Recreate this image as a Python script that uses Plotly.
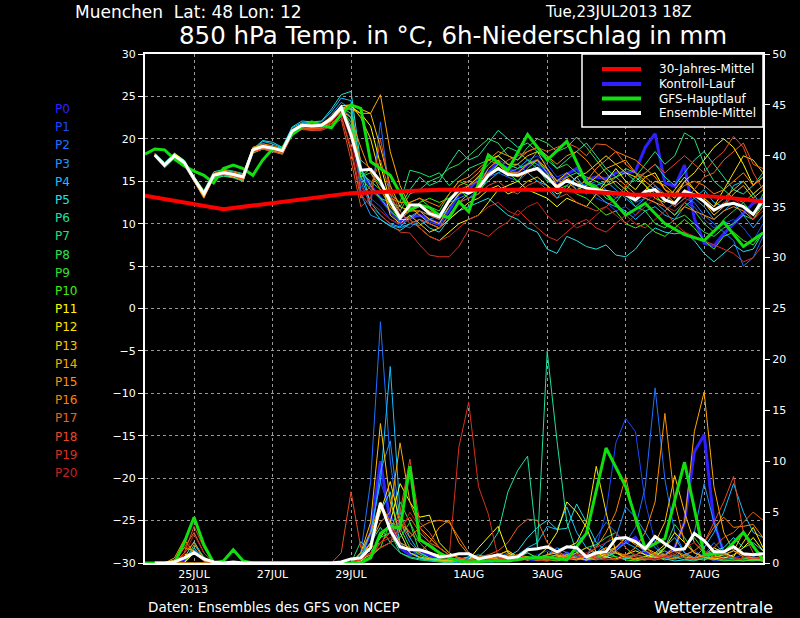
import pandas as pd
import plotly.graph_objects as go

# ---------------- time axis ----------------
T_START = "2013-07-23 18:00"
STEPS = pd.date_range(T_START, periods=64, freq="6h")
ENS_T = list(STEPS[1:])                       # ensemble members: 24JUL 00Z .. 8AUG 12Z
GFS_T = list(STEPS[0:34]) + list(STEPS[35::2])  # GFS: 6-hourly, then 12-hourly
CLIM_IDX = [0, 8, 21, 30, 42, 50, 55, 59, 63]
CLIM_T = [STEPS[i] for i in CLIM_IDX]

TICK_VALS = ["2013-07-25", "2013-07-27", "2013-07-29", "2013-08-01",
             "2013-08-03", "2013-08-05", "2013-08-07"]
TICK_TEXT = ["25JUL<br>2013", "27JUL", "29JUL", "1AUG", "3AUG", "5AUG", "7AUG"]

# ---------------- 850 hPa temperature (deg C) ----------------
CLIM = [13.3, 11.7, 13.6, 14.0, 14.0, 13.4, 13.4, 13.1, 12.6]

GFS_TEMP = [18.2, 18.8, 18.7, 17.6, 16.8, 16.2, 15.7, 14.8, 16.5, 16.9,
            16.5, 15.7, 17.5, 18.8, 18.9, 20.5, 21.4, 22.0, 21.6, 21.3,
            22.9, 24.0, 23.6, 17.3, 16.5, 15.7, 13.6, 11.6, 12.2, 11.9,
            11.0, 10.7, 12.6, 11.4,
            18.1, 16.3, 20.5, 17.5, 19.7, 14.8, 13.6, 11.0, 12.4, 10.0,
            8.7, 8.0, 10.2, 7.3, 8.9]

MEAN_TEMP = [18.1, 16.9, 18.0, 17.2, 15.3, 13.5, 15.7, 16.0, 15.8, 15.5,
             18.7, 19.1, 18.9, 18.6, 20.9, 21.6, 21.5, 21.6, 22.4, 23.7,
             20.5, 16.3, 16.4, 15.0, 12.6, 10.7, 12.2, 12.2, 11.2, 10.8,
             12.7, 14.0, 13.6, 14.2, 15.7, 16.5, 15.8, 15.7, 16.2, 16.5,
             15.5, 14.3, 15.1, 14.6, 14.2, 14.0, 13.8, 13.6, 13.4, 12.8,
             13.8, 14.0, 12.8, 12.4, 13.8, 13.4, 12.6, 11.6, 12.2, 12.4,
             12.0, 11.1, 12.8]

TEMP_P0 = [18.1, 16.8, 18.0, 17.1, 15.2, 13.4, 15.6, 16.0, 15.8, 15.4, 18.6, 19.1, 18.9, 18.5, 20.8, 21.5, 21.5, 21.6, 22.3, 23.6,
           21.0, 16.0, 14.5, 13.0, 11.5, 10.2, 10.8, 11.0, 10.5, 10.0, 11.5, 13.5, 14.0, 15.5, 16.0, 17.2, 16.5, 16.0, 17.0, 17.5,
           16.0, 15.0, 15.8, 16.5, 15.2, 15.5, 15.3, 16.0, 16.0, 16.2, 19.0, 20.6, 14.8, 14.4, 16.9, 10.6, 7.7, 7.4, 8.8, 10.0,
           11.2, 12.4, 13.0]
TEMP_P1 = [18.3, 17.0, 18.2, 17.0, 15.0, 13.2, 15.9, 16.3, 16.1, 15.3, 18.9, 19.5, 19.0, 18.4, 21.0, 21.8, 21.6, 21.4, 22.6, 24.0,
           22.5, 14.0, 13.0, 12.0, 10.5, 9.8, 10.5, 11.0, 10.2, 9.8, 11.5, 13.5, 14.0, 15.0, 16.5, 17.5, 17.0, 16.5, 17.5, 18.0,
           17.0, 15.5, 16.0, 15.0, 14.5, 13.0, 12.5, 11.5, 12.0, 11.0, 12.5, 13.5, 12.0, 11.0, 12.5, 12.0, 10.5, 9.5, 10.0, 10.5,
           9.5, 8.0, 10.0]
TEMP_P2 = [18.0, 16.8, 17.9, 17.4, 15.5, 13.7, 15.5, 15.8, 15.6, 15.2, 18.5, 19.0, 18.7, 18.8, 20.6, 21.4, 21.3, 21.8, 22.2, 23.5,
           21.0, 15.0, 12.0, 22.0, 13.0, 10.0, 9.5, 10.5, 10.0, 9.5, 11.0, 12.5, 13.0, 14.0, 15.5, 16.0, 15.5, 15.0, 16.0, 17.0,
           16.5, 15.0, 15.5, 14.0, 14.5, 15.0, 14.0, 13.0, 13.5, 12.5, 13.0, 14.5, 13.5, 12.0, 13.0, 12.5, 11.0, 10.0, 9.0, 8.0,
           5.0, 6.0, 8.5]
TEMP_P3 = [18.2, 17.1, 18.1, 17.1, 15.2, 13.4, 15.8, 16.2, 16.0, 15.7, 18.9, 19.3, 19.1, 18.5, 21.1, 21.7, 21.6, 21.5, 22.8, 24.3,
           23.5, 13.5, 11.0, 10.5, 9.8, 9.5, 10.0, 9.8, 10.5, 11.0, 12.5, 13.0, 13.5, 14.5, 16.0, 17.0, 16.0, 16.5, 17.5, 17.0,
           15.5, 14.0, 15.0, 14.5, 13.5, 14.5, 15.0, 14.0, 13.0, 12.0, 13.0, 12.5, 11.5, 12.5, 14.0, 13.0, 12.0, 10.5, 11.5, 12.5,
           11.0, 9.5, 11.0]
TEMP_P4 = [18.0, 16.7, 17.8, 17.3, 15.4, 13.6, 15.4, 15.6, 15.5, 15.1, 18.4, 19.7, 19.4, 18.9, 21.3, 21.9, 21.9, 22.0, 23.2, 24.8,
           24.5, 15.5, 12.5, 11.0, 10.0, 9.6, 10.8, 11.5, 11.0, 10.5, 12.0, 13.5, 14.0, 14.0, 15.0, 16.0, 16.5, 17.0, 16.0, 15.0,
           14.5, 13.0, 14.5, 15.5, 14.0, 13.5, 12.5, 12.0, 11.5, 10.5, 11.5, 12.0, 11.0, 10.5, 12.0, 13.0, 14.0, 12.5, 12.0, 14.5,
           15.0, 13.5, 12.0]
TEMP_P5 = [18.1, 16.9, 18.0, 17.0, 15.1, 13.3, 15.6, 15.9, 15.7, 15.6, 18.8, 19.8, 19.6, 19.0, 21.4, 22.1, 22.0, 22.1, 23.5, 25.2,
           25.6, 17.0, 12.0, 10.5, 9.7, 9.2, 10.0, 10.5, 9.5, 9.0, 10.5, 11.5, 12.0, 12.5, 13.0, 12.0, 11.0, 10.5, 9.5, 9.0,
           7.0, 6.5, 8.5, 8.0, 7.3, 7.0, 7.5, 6.3, 6.1, 7.0, 8.5, 9.5, 9.0, 8.8, 9.0, 8.0, 6.5, 5.5, 6.5, 7.5,
           6.7, 7.0, 9.0]
TEMP_P6 = [18.3, 17.2, 18.3, 17.5, 15.6, 13.9, 16.1, 16.4, 16.2, 15.9, 19.0, 19.2, 19.0, 18.7, 21.0, 21.7, 21.5, 21.7, 22.5, 23.8,
           23.5, 16.5, 14.5, 13.0, 12.5, 12.0, 14.0, 15.5, 14.5, 15.0, 17.0, 18.7, 17.5, 18.0, 19.5, 21.0, 20.0, 19.0, 19.5, 18.5,
           17.5, 16.5, 17.5, 18.5, 19.5, 18.0, 16.5, 15.5, 16.0, 15.0, 16.0, 17.0, 15.5, 14.5, 16.0, 17.5, 18.5, 17.0, 15.5, 14.0,
           13.5, 14.5, 16.0]
TEMP_P7 = [17.9, 16.6, 17.7, 16.9, 15.0, 13.2, 15.3, 15.6, 15.4, 15.0, 18.3, 18.8, 18.5, 18.2, 20.5, 21.2, 21.1, 21.2, 22.0, 23.4,
           22.0, 16.0, 15.0, 14.0, 13.5, 12.5, 16.3, 16.0, 15.5, 16.0, 14.5, 15.5, 16.5, 17.0, 17.5, 18.0, 19.0, 18.5, 17.5, 16.5,
           15.0, 14.5, 15.5, 16.0, 15.0, 14.5, 13.0, 12.5, 14.0, 15.5, 17.0, 18.5, 17.0, 18.0, 20.7, 20.0, 17.0, 15.0, 14.0, 13.0,
           12.5, 13.5, 14.5]
TEMP_P8 = [18.2, 17.0, 18.1, 17.3, 15.4, 13.6, 15.8, 16.1, 15.9, 15.6, 18.8, 19.1, 18.8, 18.5, 20.8, 21.5, 21.4, 21.5, 22.3, 23.6,
           22.5, 15.5, 16.0, 14.5, 13.0, 11.5, 13.5, 14.0, 15.0, 15.5, 16.5, 17.0, 18.0, 19.0, 20.0, 19.5, 18.0, 17.5, 19.0, 20.0,
           19.5, 18.5, 19.0, 20.2, 19.0, 17.5, 16.0, 14.5, 13.5, 12.0, 11.5, 10.0, 9.5, 10.5, 11.0, 10.0, 9.0, 8.5, 9.5, 10.0,
           11.0, 10.5, 12.5]
TEMP_P9 = [18.0, 16.8, 17.9, 17.1, 15.2, 13.4, 15.6, 15.9, 15.7, 15.4, 18.6, 19.0, 18.8, 18.5, 20.8, 21.5, 21.4, 21.5, 22.3, 23.6,
           21.5, 15.5, 14.0, 13.0, 11.5, 10.5, 12.5, 13.0, 12.0, 11.5, 13.5, 15.0, 14.5, 15.5, 17.0, 18.0, 17.0, 16.5, 17.0, 18.5,
           18.0, 16.5, 17.0, 16.0, 15.5, 15.0, 14.5, 15.5, 16.5, 16.0, 14.5, 13.5, 12.0, 11.0, 12.5, 11.5, 10.0, 9.0, 10.5, 11.5,
           12.5, 11.0, 13.5]
TEMP_P10 = [18.1, 16.9, 18.0, 17.2, 15.3, 13.5, 15.7, 16.0, 15.8, 15.5, 18.7, 19.1, 18.9, 18.6, 20.9, 21.6, 21.5, 21.6, 22.4, 23.7,
            23.0, 15.5, 16.5, 15.0, 12.0, 10.5, 11.5, 12.5, 13.0, 12.5, 13.0, 14.0, 13.0, 13.5, 15.5, 17.0, 16.0, 15.0, 16.5, 17.5,
            16.0, 14.0, 14.5, 13.5, 13.0, 12.0, 11.0, 11.5, 10.0, 9.5, 10.0, 9.0, 8.5, 9.5, 10.5, 9.5, 8.0, 7.0, 8.5, 9.0,
            8.0, 7.5, 9.0]
TEMP_P11 = [18.2, 17.0, 18.3, 17.4, 15.5, 13.8, 15.6, 15.8, 15.5, 15.2, 18.4, 18.9, 18.6, 18.3, 20.6, 21.3, 21.2, 21.3, 22.1, 23.4,
            23.8, 23.0, 21.5, 17.0, 12.5, 10.5, 10.5, 9.5, 8.5, 8.0, 9.0, 10.0, 10.5, 11.0, 12.5, 14.0, 14.5, 15.0, 14.0, 13.5,
            13.0, 12.0, 13.0, 12.5, 12.0, 13.5, 15.0, 16.5, 15.0, 14.0, 15.5, 16.0, 14.0, 13.0, 15.0, 16.0, 17.5, 19.0, 20.0, 19.0,
            17.0, 14.5, 15.5]
TEMP_P12 = [18.0, 16.9, 18.2, 17.3, 15.3, 13.4, 15.9, 16.2, 15.9, 15.6, 18.9, 19.2, 19.0, 18.7, 21.0, 21.7, 21.6, 21.7, 22.6, 23.9,
            24.0, 22.5, 20.0, 15.5, 11.0, 10.0, 11.0, 10.0, 9.0, 9.5, 10.5, 11.5, 12.5, 13.0, 14.0, 14.5, 13.5, 14.0, 15.0, 15.5,
            14.5, 13.5, 14.0, 15.5, 16.0, 17.0, 18.0, 17.0, 16.0, 15.5, 14.5, 13.0, 12.5, 14.0, 15.5, 14.0, 13.0, 12.0, 14.0, 16.0,
            18.0, 17.5, 16.0]
TEMP_P13 = [18.1, 17.0, 18.0, 17.1, 15.1, 13.2, 15.8, 16.1, 15.8, 15.4, 18.6, 19.0, 18.8, 18.4, 20.7, 21.4, 21.3, 21.4, 22.2, 23.6,
            24.0, 23.5, 23.0, 19.0, 14.5, 12.0, 11.5, 11.5, 10.5, 10.0, 12.0, 13.5, 14.5, 15.5, 17.5, 18.0, 17.0, 17.0, 18.0, 18.5,
            16.5, 15.0, 16.0, 15.0, 14.0, 13.5, 14.5, 15.0, 14.0, 13.0, 14.0, 15.0, 14.5, 13.5, 15.0, 14.0, 12.5, 11.0, 12.0, 13.5,
            14.5, 13.0, 14.0]
TEMP_P14 = [18.2, 17.1, 18.1, 17.2, 15.2, 13.1, 15.5, 15.9, 15.7, 15.3, 18.5, 18.9, 18.7, 18.3, 20.5, 21.2, 21.0, 21.2, 22.1, 23.5,
            23.5, 23.0, 23.0, 25.2, 18.5, 14.5, 12.0, 11.0, 10.0, 9.5, 11.0, 12.5, 13.5, 14.5, 16.5, 17.5, 16.0, 16.0, 17.0, 17.5,
            16.5, 14.5, 15.0, 14.0, 14.5, 15.5, 16.5, 17.0, 17.5, 16.0, 15.0, 14.0, 13.5, 12.5, 14.0, 13.5, 13.0, 12.0, 13.0, 14.0,
            15.0, 13.5, 14.5]
TEMP_P15 = [18.0, 16.8, 17.9, 17.0, 15.0, 13.0, 15.4, 15.8, 15.6, 15.1, 18.4, 18.8, 18.6, 18.2, 20.6, 21.3, 21.2, 21.3, 22.0, 23.3,
            22.5, 19.0, 16.0, 14.0, 12.0, 11.0, 11.5, 12.0, 11.5, 11.0, 12.5, 14.5, 15.0, 16.0, 17.5, 18.5, 18.0, 17.5, 18.5, 19.0,
            18.0, 17.0, 18.0, 18.5, 17.5, 16.0, 15.0, 15.5, 14.5, 13.5, 13.0, 12.5, 12.0, 11.0, 12.0, 11.5, 11.0, 10.5, 11.5, 12.0,
            11.5, 10.5, 12.0]
TEMP_P16 = [18.1, 16.9, 18.1, 17.3, 15.4, 13.6, 15.9, 16.3, 16.1, 15.8, 19.0, 19.4, 19.2, 18.8, 21.1, 21.8, 21.7, 21.8, 22.6, 23.9,
            21.0, 17.5, 16.5, 15.0, 13.0, 12.5, 12.5, 13.0, 12.5, 12.0, 13.5, 15.0, 15.5, 16.5, 17.5, 17.0, 16.0, 15.5, 16.0, 16.5,
            15.5, 14.5, 15.5, 14.5, 15.0, 16.5, 17.5, 18.5, 18.0, 17.5, 16.5, 15.5, 14.0, 13.5, 14.5, 15.0, 14.5, 13.5, 14.0, 15.0,
            16.0, 14.5, 15.5]
TEMP_P17 = [18.2, 16.8, 18.0, 17.2, 15.3, 13.5, 15.7, 16.0, 15.7, 15.3, 18.5, 18.9, 18.7, 18.4, 20.7, 21.3, 21.2, 21.2, 21.8, 22.8,
            18.5, 13.0, 14.5, 17.5, 13.5, 11.0, 10.5, 11.5, 11.0, 10.5, 12.5, 14.0, 14.5, 15.0, 16.0, 16.5, 17.5, 18.0, 18.5, 19.0,
            18.5, 19.0, 19.5, 19.0, 18.0, 19.4, 19.3, 18.5, 17.0, 16.0, 15.5, 14.5, 13.0, 12.0, 13.0, 14.0, 15.5, 16.0, 17.5, 18.5,
            19.5, 17.0, 16.5]
TEMP_P18 = [18.0, 16.7, 17.8, 17.0, 15.1, 13.3, 15.5, 15.8, 15.6, 15.2, 18.4, 18.8, 18.5, 18.2, 20.4, 21.1, 21.0, 21.0, 21.5, 22.3,
            17.5, 12.0, 13.0, 20.0, 14.0, 11.5, 10.0, 10.5, 10.0, 9.5, 11.0, 12.5, 13.0, 13.5, 14.5, 15.0, 14.0, 13.5, 14.5, 15.0,
            14.0, 13.0, 13.5, 12.5, 12.0, 11.5, 12.0, 13.0, 14.5, 15.5, 16.0, 17.0, 16.0, 17.0, 18.0, 17.0, 16.0, 17.5, 18.5, 20.3,
            19.0, 16.0, 14.0]
TEMP_P19 = [18.1, 16.9, 18.0, 17.2, 15.3, 13.4, 15.6, 15.9, 15.7, 15.4, 18.6, 19.0, 18.7, 18.4, 20.6, 21.2, 21.1, 21.1, 21.7, 22.6,
            19.0, 13.5, 12.0, 11.0, 10.0, 9.0, 8.9, 7.5, 6.3, 6.1, 6.1, 7.3, 9.3, 9.0, 8.5, 9.5, 10.2, 11.6, 10.5, 9.5,
            8.5, 8.0, 9.0, 10.0, 10.5, 9.5, 9.0, 10.0, 11.0, 10.0, 9.5, 10.5, 11.5, 10.0, 9.0, 8.5, 8.0, 7.5, 7.0, 6.5,
            5.5, 6.0, 7.5]
TEMP_P20 = [18.2, 17.0, 18.1, 17.3, 15.4, 13.5, 15.7, 16.1, 15.8, 15.5, 18.7, 19.1, 18.8, 18.5, 20.8, 21.4, 21.3, 21.3, 22.0, 23.2,
            20.0, 14.5, 12.5, 11.5, 10.5, 10.0, 10.5, 9.5, 8.5, 8.0, 8.5, 9.5, 10.5, 11.0, 12.0, 12.5, 11.5, 11.0, 12.0, 12.5,
            11.0, 10.0, 10.5, 9.5, 10.0, 11.0, 12.0, 11.0, 10.0, 11.0, 12.0, 13.0, 12.0, 11.5, 12.5, 13.5, 12.5, 11.5, 12.5, 13.0,
            12.0, 10.5, 11.5]

# ---------------- 6h precipitation (mm) ----------------
Z10 = [0, 0, 0, 0, 0, 0, 0, 0, 0, 0]

GFS_PREC = [0, 0, 0, 0, 2.0, 4.5, 1.8, 0, 0.2, 1.3,
            0.2, 0, 0, 0, 0, 0, 0, 0, 0, 0,
            0, 0, 0, 0.5, 2.9, 3.6, 3.4, 9.5, 2.3, 1.7,
            1.0, 0.5, 0.2, 0.1,
            0.2, 0.2, 0.5, 0.6, 0.3, 2.9, 11.3, 7.5, 1.4, 2.4,
            9.9, 0.8, 1.0, 3.0, 0.3]

MEAN_PREC = [0, 0, 0.1, 0.5, 1.0, 0.4, 0.1, 0, 0.1, 0,
             0, 0, 0, 0, 0, 0, 0, 0, 0, 0.1,
             0.4, 0.5, 1.5, 5.9, 3.2, 1.6, 1.3, 1.3, 1.0, 0.6,
             0.7, 0.9, 0.9, 0.4, 0.6, 0.8, 0.5, 0.6, 1.3, 1.4,
             1.6, 1.1, 1.6, 1.5, 0.6, 1.0, 1.1, 2.4, 2.5, 2.1,
             1.4, 2.6, 1.9, 1.3, 1.4, 2.9, 2.2, 1.1, 1.1, 1.6,
             0.9, 0.8, 0.9]

PREC_P0 = [0, 0, 0, 0.3, 1.2, 0.4, 0, 0, 0, 0] + Z10 + \
          [0, 0.5, 3, 10, 4, 1.5, 0.8, 1, 0.8, 0.3,
           0.2, 0.3, 0.3, 0.5, 0.4, 0.2, 0.3, 0.5, 0.4, 0.3,
           0.5, 0.4, 1, 0.6, 0.3, 0.5, 0.8, 1.5, 2, 2.5,
           1, 0.6, 0.8, 1.5, 4, 10.9, 12.6, 4, 1, 0.5,
           0.3, 0.5, 0.4]
PREC_P1 = Z10 + Z10 + \
          [0, 0.5, 3, 8, 5, 2, 1.5, 0.5, 0.3, 0.2,
           0.3, 0.5, 0.3, 0, 0, 0.2, 0.4, 0.3, 0.5, 0.8,
           1.2, 0.8, 1.5, 2, 3, 1.5, 5, 11.8, 14.2, 12.9,
           6, 2, 0.5, 0.3, 0.8, 1.2, 0.6, 0.2, 0.3, 0.5,
           0.8, 0.4, 0.2]
PREC_P2 = Z10 + Z10 + \
          [0, 1, 8, 23.7, 10, 3, 1, 0.5, 0.3, 0.2,
           0, 0.2, 0.5, 0.3, 0.2, 0.5, 1.0, 0.6, 0.4, 0.3,
           0.5, 0.3, 0.8, 1.2, 0.6, 2.5, 4, 3, 2, 3.5,
           7.5, 17.2, 8.2, 3, 1, 0.5, 0.8, 2, 1, 0.3,
           0.2, 0.5, 0.3]
PREC_P3 = Z10 + Z10 + \
          [0, 0.5, 2, 9, 12, 4, 2, 1, 0.5, 0.3,
           0.2, 0, 0.3, 0.5, 0.8, 0.4, 0.3, 0.6, 1.0, 0.5,
           0.8, 1.5, 1, 0.5, 0.3, 1, 2, 2.5, 5.5, 4.5,
           3, 1.5, 0.8, 0.5, 1.5, 3, 7.8, 4, 1, 0.5,
           0.3, 0.6, 0.4]
PREC_P4 = [0, 0, 0, 0, 1.5, 0.3, 0, 0, 0, 0] + Z10 + \
          [0, 0.5, 3, 8, 19.3, 5, 2.5, 1, 0.5, 0.3,
           0.2, 0.3, 0.6, 0.4, 0.2, 0.3, 0.5, 0.8, 1.5, 2.0,
           3.6, 3.3, 5.5, 3, 1.5, 0.8, 0.5, 1.2, 2, 1.5,
           0.8, 0.6, 1.5, 2.5, 1, 0.5, 1.5, 3, 5, 7.8,
           5, 3, 2.5]
PREC_P5 = [0, 0, 0, 0.5, 2.1, 0.5, 0, 0, 0, 0] + Z10 + \
          [0, 1, 3, 5, 7, 2, 1, 0.5, 0.3, 0.2,
           0.2, 0.4, 0.6, 0.8, 0.5, 0.3, 0.6, 1.2, 2.5, 3.5,
           4.2, 3.3, 3.4, 5.8, 4, 2, 1.2, 0.6, 0.4, 0.8,
           1.2, 0.6, 0.4, 0.2, 0.3, 0.5, 0.8, 1.2, 1.5, 2.5,
           1.5, 2, 1.2]
PREC_P6 = Z10 + Z10 + \
          [0, 0.8, 2, 3.5, 2, 1, 0.6, 0.4, 0.3, 0.5,
           0.3, 0.2, 0.4, 0.6, 1.5, 3, 7, 9.1, 10.5, 1.5,
           20.8, 12, 4, 1, 0.5, 0.3, 0.6, 1, 0.5, 0.3,
           0.4, 0.8, 1.2, 0.6, 0.3, 0.2, 0.5, 0.8, 0.4, 0.3,
           0.5, 0.3, 0.2]
PREC_P7 = Z10 + Z10 + \
          [0, 2.1, 1, 2.5, 3, 1, 0.5, 0.3, 0.2, 0.1,
           0, 0.2, 0.3, 0.5, 0.3, 0.2, 0.4, 0.3, 0.6, 0.4,
           0.5, 0.8, 0.4, 0.3, 0.6, 1, 1.5, 1, 0.5, 0.8,
           0.6, 0.9, 1.5, 3.8, 2.5, 1, 0.5, 0.3, 0.6, 0.4,
           0.3, 0.2, 0.4]
PREC_P8 = [0, 0, 0, 0, 1.8, 0.6, 0, 0, 0, 0] + Z10 + \
          [0, 0.3, 1, 2, 3, 6, 4, 1, 0.5, 0.3,
           0.2, 0.3, 0.2, 0.4, 0.6, 0.3, 0.2, 0.5, 0.3, 0.6,
           0.4, 0.3, 0.6, 1, 1.5, 1.8, 2.5, 3, 1.5, 0.6,
           0.4, 0.3, 0.5, 0.8, 0.5, 0.3, 0.6, 0.4, 0.2, 0.3,
           0.5, 0.4, 0.2]
PREC_P9 = [0, 0, 0, 0, 1.2, 0.4, 0, 0, 0, 0] + Z10 + \
          [0, 0.2, 0.6, 1.5, 2, 2.5, 4, 2, 1, 0.5,
           0.3, 0.2, 0.1, 0.3, 0.5, 0.3, 0.2, 0.4, 0.6, 0.3,
           0.2, 0.5, 0.8, 0.5, 0.3, 0.6, 0.8, 1, 0.6, 0.4,
           0.3, 0.6, 0.8, 1.2, 1.5, 2.5, 1.2, 0.5, 0.3, 0.2,
           0.4, 0.3, 0.2]
PREC_P10 = Z10 + Z10 + \
           [0, 0.3, 0.8, 1.5, 4, 3.5, 1.5, 0.8, 0.4, 0.2,
            0.1, 0.2, 0.3, 0.2, 0.3, 0.5, 0.4, 0.6, 1, 0.5,
            0.3, 0.2, 0.4, 0.6, 0.3, 0.5, 0.8, 0.6, 0.3, 0.2,
            0.4, 0.6, 0.3, 0.5, 0.8, 0.4, 0.3, 0.6, 0.4, 0.3,
            0.2, 0.3, 0.5]
PREC_P11 = [0, 0, 0, 0, 1.0, 0.5, 0, 0, 0, 0] + Z10 + \
           [0, 0.2, 1, 2.5, 4, 7.8, 6, 4.5, 4.7, 2,
            1, 0.5, 0.3, 1.5, 2.5, 3.6, 1, 0.5, 0.3, 0.6,
            1.5, 3, 6, 5, 3.5, 1, 0.6, 0.4, 0.8, 1.2,
            0.8, 0.5, 1.5, 3, 2, 1, 0.6, 0.4, 0.5, 0.8,
            1.5, 2.5, 1.2]
PREC_P12 = [0, 0, 0, 0.8, 1.0, 0.3, 0, 0, 0, 0] + Z10 + \
           [0, 0.5, 2, 5, 8, 4, 3, 2, 1, 0.8,
            0.5, 0.3, 0.2, 0.4, 0.6, 0.8, 1.2, 0.6, 0.3, 0.5,
            0.8, 1, 1.5, 2, 4, 9.5, 5, 1, 0.6, 0.4,
            0.6, 1, 1.8, 1.2, 0.6, 0.4, 0.8, 1.5, 1, 0.6,
            2, 3.5, 1.5]
PREC_P13 = [0, 0, 0.3, 1.5, 1.2, 0.2, 0, 0, 0, 0] + Z10 + \
           [0, 1, 4, 13.7, 6, 3, 1, 0.6, 0.4, 0.3,
            0.2, 0.4, 0.3, 0.6, 0.4, 0.3, 0.5, 0.8, 0.6, 0.4,
            0.3, 0.6, 0.8, 0.5, 0.3, 0.8, 1.2, 1.5, 2.5, 1.8,
            1.2, 2, 4, 8.6, 5, 2, 1, 0.6, 0.8, 1.2,
            3, 1.5, 0.8]
PREC_P14 = Z10 + Z10 + \
           [0, 0.5, 2, 4, 5, 11.8, 6, 3.5, 2.5, 1.5,
            0.8, 0.5, 0.3, 0.6, 0.4, 0.8, 1.2, 0.6, 0.4, 0.3,
            0.5, 0.8, 0.6, 1, 1.5, 1, 0.8, 1.5, 2.5, 2,
            1.5, 1, 0.8, 1.5, 4, 12.9, 16.8, 7.5, 3, 1.2,
            0.8, 0.5, 0.3]
PREC_P15 = [0, 0, 0.5, 2.3, 1.0, 0.2, 0, 0, 0, 0] + Z10 + \
           [0, 1, 3, 6, 4, 2, 1.5, 1, 2, 3.5,
            4.2, 2, 0.8, 0.4, 0.3, 0.5, 0.8, 0.6, 0.4, 0.3,
            0.6, 0.8, 0.5, 0.3, 0.6, 1, 1.5, 1, 0.8, 1.5,
            3, 6, 14.7, 6, 2, 1, 0.6, 0.4, 0.8, 1.2,
            0.6, 0.4, 0.3]
PREC_P16 = [0, 0, 0, 1.0, 2.0, 0.3, 0, 0, 0, 0] + Z10 + \
           [0, 0.5, 1.5, 2, 3, 4, 2.5, 3.5, 4, 4.2,
            4, 2.5, 1, 0.5, 0.3, 0.6, 0.8, 0.5, 0.3, 0.5,
            0.8, 1.2, 0.6, 0.4, 0.8, 1.5, 3, 5, 8.5, 4,
            1.5, 0.8, 0.6, 0.4, 0.8, 1.2, 2, 3.5, 4.5, 3.5,
            3.6, 3.8, 2.5]
PREC_P17 = [0, 0, 0, 1.5, 3.0, 1.0, 0, 0, 0, 0] + Z10 + \
           [0, 0.3, 1, 1.5, 2, 3.5, 4.5, 3, 2, 1.5,
            0.8, 0.5, 0.3, 0.6, 0.8, 1.2, 2, 3.5, 4.3, 4.2,
            2, 1, 0.5, 0.8, 0.6, 0.4, 0.8, 1.2, 0.6, 0.4,
            0.3, 0.6, 0.8, 1.2, 0.8, 0.5, 0.8, 1.5, 2.5, 3,
            4, 5, 4.2]
PREC_P18 = [0, 0, 0, 1.0, 3.6, 1.5, 0, 0, 0, 0] + \
           [0, 0, 0, 0, 0, 0, 0, 0, 0, 1,
            7, 1.5, 0.5, 2, 3, 5, 10.2, 4, 3, 1.5,
            0.8, 0.5, 0.3, 0.2, 0.4, 0.3, 0.6, 0.8, 0.5, 0.3,
            0.4, 0.6, 0.3, 0.5, 0.8, 0.6, 0.4, 0.3, 0.6, 0.8,
            1.2, 0.8, 0.5, 0.8, 1.5, 3, 2, 4, 6, 8.5,
            3, 1, 0.5]
PREC_P19 = Z10 + Z10 + \
           [0, 0.3, 1, 1.5, 2, 4.5, 3, 2, 1, 0.5,
            0.5, 11.4, 15.8, 7.5, 4.8, 0.5, 0.3, 0.2, 0.4, 0.3,
            0.2, 0.4, 0.3, 0.5, 0.8, 0.4, 0.3, 0.5, 0.8, 0.6,
            0.4, 0.3, 0.6, 0.8, 0.5, 0.4, 0.6, 1, 0.8, 0.5,
            0.3, 0.5, 0.4]
PREC_P20 = [0, 0, 0, 0.8, 2.8, 1.0, 0, 0, 0, 0] + Z10 + \
           [0, 0.5, 1, 2, 2.5, 3, 5, 3.5, 2, 1,
            0.5, 0.3, 0.2, 0.4, 0.3, 0.2, 0.5, 0.4, 0.3, 0.6,
            0.4, 0.3, 0.5, 0.8, 1, 1.5, 2, 3, 1.5, 0.8,
            0.5, 0.4, 0.6, 1, 1.5, 2, 1.2, 0.6, 0.4, 0.3,
            0.5, 0.8, 0.6]

MEMBER_NAMES = ["P%d" % i for i in range(21)]
MEMBER_COLORS = ["#3020ff", "#1848ff", "#2070ff", "#2098ff", "#10c0ff", "#20e0e0",
                 "#20e0a0", "#20e070", "#30e050", "#30e030", "#40f010", "#ffff00",
                 "#ffe000", "#ffc000", "#ffa800", "#ff9000", "#ff8000", "#f06018",
                 "#e84828", "#d83020", "#c82020"]
MEMBER_TEMPS = [TEMP_P0, TEMP_P1, TEMP_P2, TEMP_P3, TEMP_P4, TEMP_P5, TEMP_P6, TEMP_P7,
                TEMP_P8, TEMP_P9, TEMP_P10, TEMP_P11, TEMP_P12, TEMP_P13, TEMP_P14,
                TEMP_P15, TEMP_P16, TEMP_P17, TEMP_P18, TEMP_P19, TEMP_P20]
MEMBER_PRECS = [PREC_P0, PREC_P1, PREC_P2, PREC_P3, PREC_P4, PREC_P5, PREC_P6, PREC_P7,
                PREC_P8, PREC_P9, PREC_P10, PREC_P11, PREC_P12, PREC_P13, PREC_P14,
                PREC_P15, PREC_P16, PREC_P17, PREC_P18, PREC_P19, PREC_P20]

for name, t, p in zip(MEMBER_NAMES, MEMBER_TEMPS, MEMBER_PRECS):
    assert len(t) == 63, (name, "temp", len(t))
    assert len(p) == 63, (name, "prec", len(p))
assert len(GFS_TEMP) == len(GFS_T) == len(GFS_PREC)
assert len(MEAN_TEMP) == 63 and len(MEAN_PREC) == 63

LEGEND_LABELS = ["30-Jahres-Mittel", "Kontroll-Lauf", "GFS-Hauptlauf", "Ensemble-Mittel"]
LEGEND_COLORS = ["#ff0000", "#3020ff", "#10e010", "#ffffff"]

# ---------------- figure ----------------
FONT = "DejaVu Sans"
L, R, T, B = 145, 763, 54, 563
PW, PH = R - L, B - T


def px(x):
    return (x - L) / PW


def py(y):
    return (B - y) / PH


fig = go.Figure()

# control run (P0) underneath the thin members
fig.add_trace(go.Scatter(x=ENS_T, y=PREC_P0, yaxis="y2", mode="lines",
                         line=dict(color=LEGEND_COLORS[1], width=3)))
fig.add_trace(go.Scatter(x=ENS_T, y=TEMP_P0, mode="lines",
                         line=dict(color=LEGEND_COLORS[1], width=3)))

# thin ensemble members (P1..P20)
for i in range(1, 21):
    fig.add_trace(go.Scatter(x=ENS_T, y=MEMBER_PRECS[i], yaxis="y2", mode="lines",
                             line=dict(color=MEMBER_COLORS[i], width=1)))
    fig.add_trace(go.Scatter(x=ENS_T, y=MEMBER_TEMPS[i], mode="lines",
                             line=dict(color=MEMBER_COLORS[i], width=1)))

# GFS main run
fig.add_trace(go.Scatter(x=GFS_T, y=GFS_PREC, yaxis="y2", mode="lines",
                         line=dict(color=LEGEND_COLORS[2], width=3)))
fig.add_trace(go.Scatter(x=GFS_T, y=GFS_TEMP, mode="lines",
                         line=dict(color=LEGEND_COLORS[2], width=3)))
# ensemble mean
fig.add_trace(go.Scatter(x=ENS_T, y=MEAN_PREC, yaxis="y2", mode="lines",
                         line=dict(color=LEGEND_COLORS[3], width=3)))
fig.add_trace(go.Scatter(x=ENS_T, y=MEAN_TEMP, mode="lines",
                         line=dict(color=LEGEND_COLORS[3], width=3)))
# 30-year climatology
fig.add_trace(go.Scatter(x=CLIM_T, y=CLIM, mode="lines",
                         line=dict(color=LEGEND_COLORS[0], width=4)))

tickfont = dict(family=FONT, size=11, color="white")

fig.update_layout(
    width=800, height=618,
    paper_bgcolor="black", plot_bgcolor="black",
    margin=dict(l=L, r=800 - R, t=T, b=618 - B, autoexpand=False),
    showlegend=False, hovermode=False,
    xaxis=dict(type="date", range=[STEPS[0], STEPS[-1]],
               tickmode="array", tickvals=TICK_VALS, ticktext=TICK_TEXT,
               tickfont=tickfont, ticks="", showgrid=True,
               gridcolor="#9a9a9a", griddash="dot", gridwidth=1,
               showline=True, linecolor="white", linewidth=2, mirror=True,
               zeroline=False, automargin=False),
    yaxis=dict(range=[-30, 30], tick0=0, dtick=5, tickfont=tickfont,
               ticks="outside", ticklen=5, tickcolor="white", tickwidth=1,
               showgrid=True, gridcolor="#9a9a9a", griddash="dot", gridwidth=1,
               showline=True, linecolor="white", linewidth=2, mirror=True,
               zeroline=False, automargin=False),
    yaxis2=dict(range=[0, 50], tick0=0, dtick=5, overlaying="y", side="right",
                anchor="x", tickfont=tickfont, ticks="outside", ticklen=5,
                tickcolor="white", tickwidth=1, showgrid=False,
                showline=True, linecolor="white", linewidth=2,
                zeroline=False, automargin=False),
)

# legend box (top right)
shapes = [dict(type="rect", xref="paper", yref="paper", x0=px(582), x1=1.0,
               y0=py(127), y1=1.0, line=dict(color="white", width=1.5),
               fillcolor="black", layer="above")]
annotations = []
leg_y = [69, 84, 98.5, 113]
for lab, col, yy in zip(LEGEND_LABELS, LEGEND_COLORS, leg_y):
    shapes.append(dict(type="line", xref="paper", yref="paper", x0=px(602), x1=px(641),
                       y0=py(yy), y1=py(yy), line=dict(color=col, width=4), layer="above"))
    annotations.append(dict(text=lab, xref="paper", yref="paper", x=px(657), y=py(yy),
                            xanchor="left", yanchor="middle", showarrow=False,
                            font=dict(family=FONT, size=12, color="white")))

# member labels on the left
for i, (name, col) in enumerate(zip(MEMBER_NAMES, MEMBER_COLORS)):
    annotations.append(dict(text=name, xref="paper", yref="paper", x=px(53),
                            y=py(109 + i * 18.2), xanchor="left", yanchor="middle",
                            showarrow=False, font=dict(family=FONT, size=12, color=col)))

# titles and footer
annotations += [
    dict(text="Muenchen\u00a0\u00a0Lat: 48 Lon: 12", xref="paper", yref="paper",
         x=px(73), y=py(12), xanchor="left", yanchor="middle", showarrow=False,
         font=dict(family=FONT, size=17, color="white")),
    dict(text="Tue,23JUL2013 18Z", xref="paper", yref="paper",
         x=px(543), y=py(12), xanchor="left", yanchor="middle", showarrow=False,
         font=dict(family=FONT, size=15, color="white")),
    dict(text="850 hPa Temp. in °C, 6h-Niederschlag in mm", xref="paper", yref="paper",
         x=px(453), y=py(35), xanchor="center", yanchor="middle", showarrow=False,
         font=dict(family=FONT, size=24.5, color="white")),
    dict(text="Daten: Ensembles des GFS von NCEP", xref="paper", yref="paper",
         x=px(146), y=py(607), xanchor="left", yanchor="middle", showarrow=False,
         font=dict(family=FONT, size=13.5, color="white")),
    dict(text="Wetterzentrale", xref="paper", yref="paper",
         x=px(775), y=py(607), xanchor="right", yanchor="middle", showarrow=False,
         font=dict(family=FONT, size=16, color="white")),
]

fig.update_layout(shapes=shapes, annotations=annotations)
fig.write_html("out.html",
               config={"displayModeBar": False},
               post_script="document.body.style.margin='0px';"
                           "document.body.style.overflow='hidden';")
